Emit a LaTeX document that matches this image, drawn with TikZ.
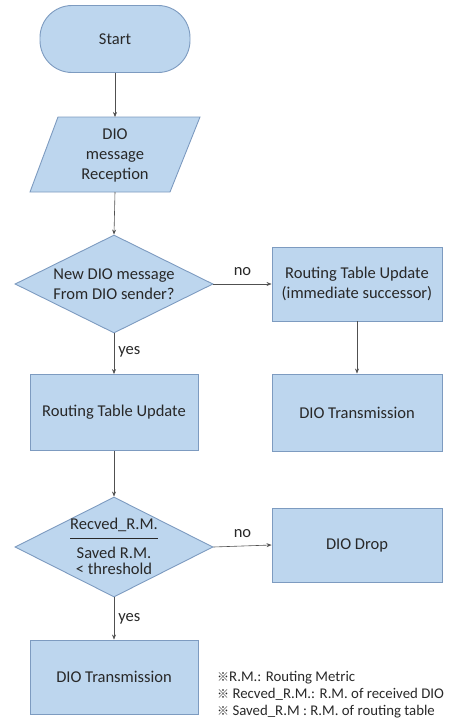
\documentclass[tikz,border=0pt]{standalone}
\usepackage{fontspec}
\setmainfont{Carlito}
\newfontfamily\cjk{Noto Sans CJK SC}
\usetikzlibrary{shapes.geometric,arrows.meta}
\definecolor{boxfill}{RGB}{189,214,238}
\definecolor{boxline}{RGB}{125,155,192}
\definecolor{txtcol}{RGB}{40,40,40}
\definecolor{arrcol}{RGB}{80,80,80}
\tikzset{
  base/.style={draw=boxline, fill=boxfill, line width=0.9pt},
  procbox/.style={base, rectangle, minimum width=168pt, minimum height=76pt, inner sep=0pt, align=center, font=\fontsize{16.5}{20}\selectfont, text=txtcol},
  termbox/.style={base, rectangle, rounded corners=32pt, minimum width=150pt, minimum height=67pt, inner sep=0pt, font=\fontsize{16.5}{20}\selectfont, text=txtcol},
  decbox/.style={base, diamond, inner sep=0pt, minimum width=198pt, minimum height=98pt},
  lbl/.style={align=center, font=\fontsize{16.5}{20}\selectfont, text=txtcol, inner sep=0pt},
  arr/.style={draw=arrcol, line width=0.6pt, -{Stealth[length=5pt,width=4pt]}},
}
\begin{document}
\begin{tikzpicture}[x=1pt,y=-1pt]
\useasboundingbox (0,0) rectangle (454,724);
% Start
\node[termbox] (start) at (115,39) {Start};
% Reception parallelogram
\coordinate (recT) at (115,117);
\draw[base] (58,117) -- (200,117) -- (170,192) -- (30,192) -- cycle;
\node[lbl] (rec) at (115,155) {DIO\\message\\Reception};
% Decision 1
\node[decbox] (d1) at (114,284) {};
\node[lbl] (d1t) at (d1) {New DIO message\\From DIO sender?};
% Right boxes
\node[procbox, minimum width=170pt, minimum height=74pt] (rtu2) at (357,284) {Routing Table Update\\(immediate successor)};
\node[procbox, minimum width=170pt, minimum height=77pt] (tx2) at (357,412.5) {DIO Transmission};
% Left routing update
\node[procbox] (rtu) at (114,412.5) {Routing Table Update};
% Decision 2
\node[decbox, minimum height=100pt] (d2) at (114,547) {};
\node[lbl] (d2a) at (114,525) {Recved\_R.M.};
\node[lbl] (d2b) at (114,553) {Saved R.M.};
\node[lbl] (d2c) at (114,569) {< threshold};
\draw[txtcol, line width=0.7pt] (70,538) -- (158,538);
% Drop
\node[procbox, minimum width=170pt, minimum height=74pt] (drop) at (357,545) {DIO Drop};
% Bottom transmission
\node[procbox, minimum height=74pt] (tx1) at (114,677) {DIO Transmission};
% Notes
\node[anchor=west, align=left, inner sep=0pt, font=\fontsize{14.8}{17}\selectfont, text=txtcol] (notes) at (217,695)
  {{\cjk\fontsize{12}{17}\selectfont ※}R.M.: Routing Metric\\{\cjk\fontsize{12}{17}\selectfont ※} Recved\_R.M.: R.M. of received DIO\\{\cjk\fontsize{12}{17}\selectfont ※} Saved\_R.M : R.M. of routing table};
% Connectors
\draw[arr] (start.south) -- (recT);
\draw[arr] (115,192) -- (d1.north);
\draw[arr] (d1.east) -- node[lbl, above=8pt, pos=0.5] {no} (rtu2.west);
\draw[arr] (d1.south) -- node[lbl, right=4pt, pos=0.45] {yes} (rtu.north);
\draw[arr] (rtu2.south) -- (tx2.north);
\draw[arr] (rtu.south) -- (d2.north);
\draw[arr] (d2.east) -- node[lbl, above=8pt, pos=0.5] {no} (drop.west);
\draw[arr] (d2.south) -- node[lbl, right=4pt, pos=0.5] {yes} (tx1.north);
\end{tikzpicture}
\end{document}
